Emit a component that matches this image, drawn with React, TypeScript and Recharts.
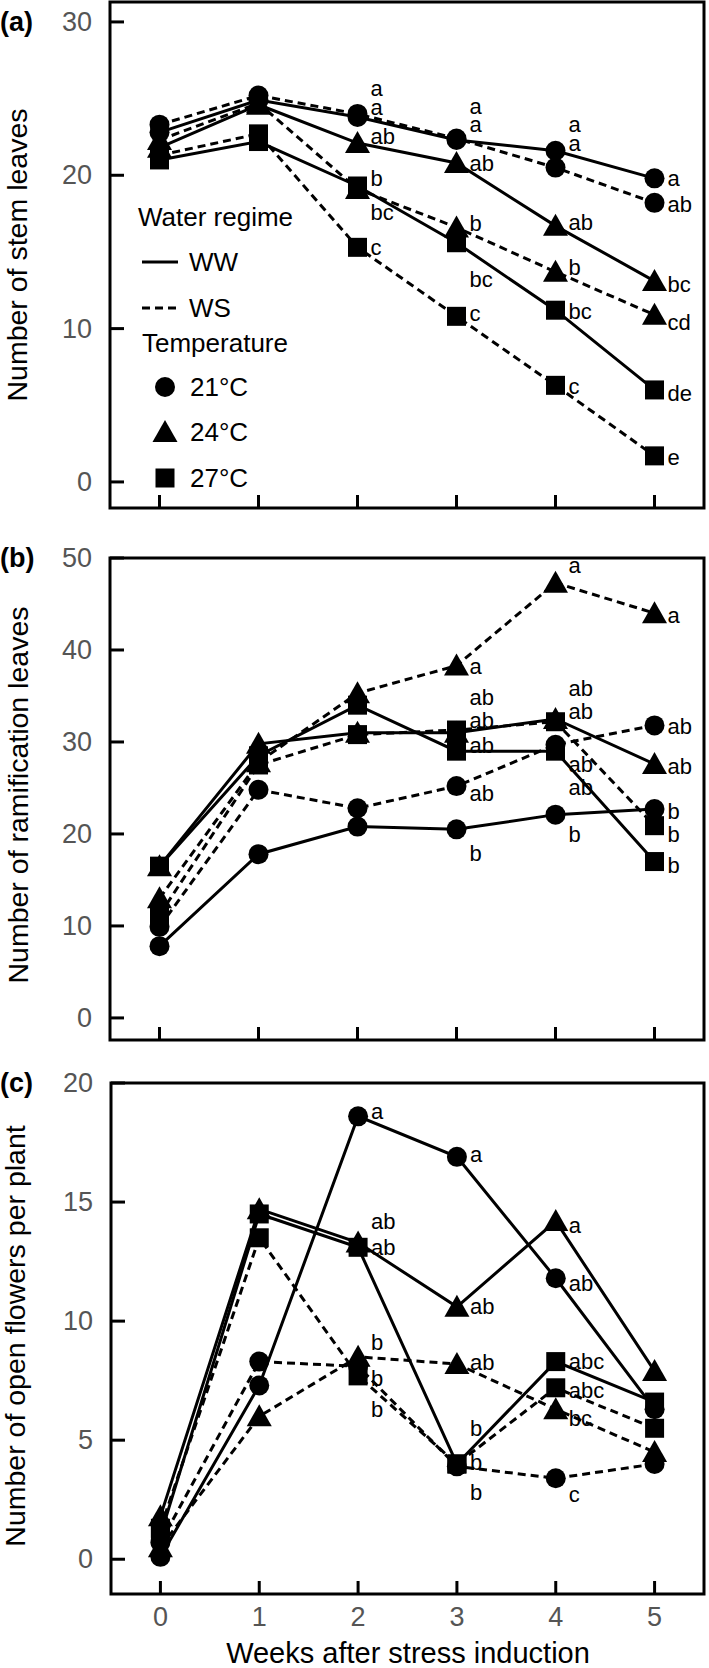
import React from "react";
import { ComposedChart, Line, Scatter, XAxis, YAxis, ReferenceArea, Legend } from "recharts";

const FONT = "'Liberation Sans', Arial, Helvetica, sans-serif";

const weeks = [0, 1, 2, 3, 4, 5];
const xDomain: [number, number] = [-0.5, 5.5];

// (a) number of stem leaves
const stemWW21 = [22.8, 24.9, 23.8, 22.3, 21.6, 19.8];
const stemWS21 = [23.3, 25.2, 24.0, 22.4, 20.5, 18.2];
const stemWW24 = [21.8, 24.6, 22.1, 20.8, 16.7, 13.1];
const stemWS24 = [22.3, 24.7, 19.1, 16.6, 13.7, 10.9];
const stemWW27 = [21.0, 22.2, 19.3, 15.6, 11.2, 6.0];
const stemWS27 = [21.3, 22.7, 15.3, 10.8, 6.3, 1.7];
const stemTicks = [0, 10, 20, 30];
const stemLabels: [number, number, string][] = [
  [2, 25.65, "a"], [2, 24.4, "a"], [2, 22.5, "ab"], [2, 19.8, "b"], [2, 17.6, "bc"], [2, 15.3, "c"],
  [3, 24.5, "a"], [3, 23.3, "a"], [3, 20.8, "ab"], [3, 16.85, "b"], [3, 13.2, "bc"], [3, 11.0, "c"],
  [4, 23.3, "a"], [4, 22.1, "a"], [4, 16.9, "ab"], [4, 14.0, "b"], [4, 11.1, "bc"], [4, 6.2, "c"],
  [5, 19.8, "a"], [5, 18.1, "ab"], [5, 12.9, "bc"], [5, 10.4, "cd"], [5, 5.8, "de"], [5, 1.6, "e"],
];

// (b) number of ramification leaves
const ramWW21 = [7.8, 17.8, 20.8, 20.5, 22.1, 22.7];
const ramWS21 = [9.9, 24.8, 22.8, 25.2, 29.7, 31.8];
const ramWW24 = [16.5, 29.8, 31.0, 31.0, 32.5, 27.6];
const ramWS24 = [13.0, 27.8, 35.3, 38.3, 47.3, 44.0];
const ramWW27 = [16.5, 28.5, 34.0, 29.0, 29.0, 17.0];
const ramWS27 = [11.2, 27.5, 30.8, 31.3, 32.2, 20.9];
const ramTicks = [0, 10, 20, 30, 40, 50];
const ramLabels: [number, number, string][] = [
  [3, 38.2, "a"], [3, 34.8, "ab"], [3, 32.3, "ab"], [3, 29.6, "ab"], [3, 24.4, "ab"], [3, 17.9, "b"],
  [4, 49.2, "a"], [4, 35.8, "ab"], [4, 33.3, "ab"], [4, 27.5, "ab"], [4, 25.1, "ab"], [4, 19.9, "b"],
  [5, 43.8, "a"], [5, 31.7, "ab"], [5, 27.3, "ab"], [5, 22.4, "b"], [5, 19.9, "b"], [5, 16.6, "b"],
];

// (c) number of open flowers per plant
const flowWW21 = [0.1, 7.3, 18.6, 16.9, 11.8, 6.3];
const flowWS21 = [0.7, 8.3, 8.1, 3.9, 3.4, 4.0];
const flowWW24 = [1.8, 14.7, 13.3, 10.6, 14.2, 7.9];
const flowWS24 = [0.5, 6.0, 8.5, 8.2, 6.3, 4.5];
const flowWW27 = [1.0, 14.5, 13.1, 4.0, 8.3, 6.6];
const flowWS27 = [1.3, 13.5, 7.7, 4.0, 7.2, 5.5];
const flowTicks = [0, 5, 10, 15, 20];
const flowLabels: [number, number, string][] = [
  [2, 18.8, "a"], [2, 14.2, "ab"], [2, 13.1, "ab"], [2, 9.1, "b"], [2, 7.6, "b"], [2, 6.3, "b"],
  [3, 17.0, "a"], [3, 10.6, "ab"], [3, 8.25, "ab"], [3, 5.5, "b"], [3, 4.05, "b"], [3, 2.8, "b"],
  [4, 14.0, "a"], [4, 11.6, "ab"], [4, 8.3, "abc"], [4, 7.1, "abc"], [4, 5.9, "bc"], [4, 2.7, "c"],
];

type Marker = "circle" | "triangle" | "square";
type Series = { id: string; values: number[]; marker: Marker; dashed: boolean };

const toPoints = (values: number[]) => weeks.map((w, i) => ({ x: w, y: values[i] }));
const toLabels = (list: [number, number, string][]) => list.map(([x, y, t]) => ({ x, y, t }));

const drawMarker = (marker: Marker, cx: number, cy: number, key?: string) => {
  if (marker === "circle") return <circle key={key} cx={cx} cy={cy} r={10} fill="#000" />;
  if (marker === "square")
    return <rect key={key} x={cx - 9.5} y={cy - 9.5} width={19} height={19} fill="#000" />;
  return (
    <path
      key={key}
      d={`M${cx},${cy - 12} L${cx + 12.5},${cy + 10} L${cx - 12.5},${cy + 10} Z`}
      fill="#000"
    />
  );
};

const dotFor = (marker: Marker) => (props: any) => {
  const { cx, cy, index } = props;
  return drawMarker(marker, cx, cy, `${marker}-${index}`);
};

const YTick = (props: any) => {
  const { x, y, payload } = props;
  return (
    <g>
      <line x1={x} x2={x + 14} y1={y} y2={y} stroke="#000" strokeWidth={3} />
      <text x={x - 18} y={y} textAnchor="end" dominantBaseline="central" fontSize={27} fill="#555" fontFamily={FONT}>
        {payload.value}
      </text>
    </g>
  );
};

const xTickFor = (showLabel: boolean) => (props: any) => {
  const { x, y, payload } = props;
  return (
    <g>
      <line x1={x} x2={x} y1={y} y2={y - 13} stroke="#000" strokeWidth={3} />
      {showLabel && (
        <text x={x} y={y + 23} textAnchor="middle" dominantBaseline="central" fontSize={27} fill="#555" fontFamily={FONT}>
          {payload.value}
        </text>
      )}
    </g>
  );
};

const LetterShape = (props: any) => (
  <text x={props.cx + 13} y={props.cy} dominantBaseline="central" fontSize={22} fill="#000" fontFamily={FONT}>
    {props.payload.t}
  </text>
);

const LegendBox = () => (
  <svg width={200} height={310} style={{ overflow: "visible" }}>
    <g fontFamily={FONT} fontSize={26} fill="#000">
      <text x={8} y={27} dominantBaseline="central">Water regime</text>
      <line x1={12} x2={48} y1={72} y2={72} stroke="#000" strokeWidth={3} />
      <text x={59} y={72} dominantBaseline="central">WW</text>
      <line x1={12} x2={48} y1={118} y2={118} stroke="#000" strokeWidth={3} strokeDasharray="8 5" />
      <text x={59} y={118} dominantBaseline="central">WS</text>
      <text x={12} y={153} dominantBaseline="central">Temperature</text>
      {drawMarker("circle", 35, 197)}
      <text x={60} y={197} dominantBaseline="central">21°C</text>
      {drawMarker("triangle", 35, 242)}
      <text x={60} y={242} dominantBaseline="central">24°C</text>
      {drawMarker("square", 35, 288)}
      <text x={60} y={288} dominantBaseline="central">27°C</text>
    </g>
  </svg>
);

function makeSeries(ww21: number[], ws21: number[], ww24: number[], ws24: number[], ww27: number[], ws27: number[]): Series[] {
  return [
    { id: "WW21", values: ww21, marker: "circle", dashed: false },
    { id: "WS21", values: ws21, marker: "circle", dashed: true },
    { id: "WW24", values: ww24, marker: "triangle", dashed: false },
    { id: "WS24", values: ws24, marker: "triangle", dashed: true },
    { id: "WW27", values: ww27, marker: "square", dashed: false },
    { id: "WS27", values: ws27, marker: "square", dashed: true },
  ];
}

type PanelProps = {
  top: number;
  height: number;
  margin: { top: number; right: number; bottom: number; left: number };
  yDomain: [number, number];
  yTicks: number[];
  series: Series[];
  letters: [number, number, string][];
  showXLabels?: boolean;
  withLegend?: boolean;
};

// axis boxes are 1px wide/high: recharts skips drawing an axis whose box is 0
function Panel({ top, height, margin, yDomain, yTicks, series, letters, showXLabels = false, withLegend = false }: PanelProps) {
  return (
    <div style={{ position: "absolute", left: 0, top, width: 709, height }}>
      <ComposedChart width={709} height={height} margin={margin}>
        <XAxis
          type="number"
          dataKey="x"
          domain={xDomain}
          ticks={weeks}
          interval={0}
          height={1}
          axisLine={false}
          tickLine={false}
          tickSize={0}
          tickMargin={0}
          tick={xTickFor(showXLabels)}
        />
        <YAxis
          type="number"
          domain={yDomain}
          ticks={yTicks}
          interval={0}
          width={1}
          axisLine={false}
          tickLine={false}
          tickSize={0}
          tickMargin={0}
          tick={YTick}
        />
        <ReferenceArea
          x1={xDomain[0]}
          x2={xDomain[1]}
          y1={yDomain[0]}
          y2={yDomain[1]}
          fill="none"
          fillOpacity={0}
          stroke="#000"
          strokeWidth={3}
          ifOverflow="visible"
        />
        {series.map((s) => (
          <Line
            key={s.id}
            data={toPoints(s.values)}
            dataKey="y"
            stroke="#000"
            strokeWidth={3}
            strokeDasharray={s.dashed ? "8 5" : undefined}
            dot={dotFor(s.marker)}
            activeDot={false}
            legendType="none"
            isAnimationActive={false}
          />
        ))}
        <Scatter data={toLabels(letters)} dataKey="y" shape={LetterShape} legendType="none" isAnimationActive={false} />
        {withLegend && (
          <Legend
            layout="vertical"
            align="center"
            verticalAlign="middle"
            content={LegendBox}
            wrapperStyle={{ left: 130, top: 190, width: 200, height: 310 }}
          />
        )}
      </ComposedChart>
    </div>
  );
}

export default function App() {
  return (
    <div style={{ position: "absolute", left: 0, top: 0, width: 709, height: 1668, background: "#fff", fontFamily: FONT }}>
      <Panel
        top={0}
        height={530}
        margin={{ top: 2, right: 5, bottom: 21, left: 109 }}
        yDomain={[-1.7, 31.3]}
        yTicks={stemTicks}
        series={makeSeries(stemWW21, stemWS21, stemWW24, stemWS24, stemWW27, stemWS27)}
        letters={stemLabels}
        withLegend
      />
      <Panel
        top={530}
        height={530}
        margin={{ top: 28, right: 5, bottom: 19, left: 109 }}
        yDomain={[-2.4, 50]}
        yTicks={ramTicks}
        series={makeSeries(ramWW21, ramWS21, ramWW24, ramWS24, ramWW27, ramWS27)}
        letters={ramLabels}
      />
      <Panel
        top={1060}
        height={608}
        margin={{ top: 23, right: 5, bottom: 73, left: 110 }}
        yDomain={[-1.46, 20]}
        yTicks={flowTicks}
        series={makeSeries(flowWW21, flowWS21, flowWW24, flowWS24, flowWW27, flowWS27)}
        letters={flowLabels}
        showXLabels
      />
      <svg width={709} height={1668} style={{ position: "absolute", left: 0, top: 0, pointerEvents: "none" }}>
        <g fontFamily={FONT} fill="#000">
          <text x={0} y={22} dominantBaseline="central" fontSize={27} fontWeight="bold">(a)</text>
          <text x={0} y={558} dominantBaseline="central" fontSize={27} fontWeight="bold">(b)</text>
          <text x={0} y={1083} dominantBaseline="central" fontSize={27} fontWeight="bold">(c)</text>
          <text transform="translate(27,255) rotate(-90)" textAnchor="middle" fontSize={28.5}>Number of stem leaves</text>
          <text transform="translate(28,795) rotate(-90)" textAnchor="middle" fontSize={28.5}>Number of ramification leaves</text>
          <text transform="translate(25,1336) rotate(-90)" textAnchor="middle" fontSize={28.5}>Number of open flowers per plant</text>
          <text x={408} y={1663} textAnchor="middle" fontSize={29}>Weeks after stress induction</text>
        </g>
      </svg>
    </div>
  );
}
